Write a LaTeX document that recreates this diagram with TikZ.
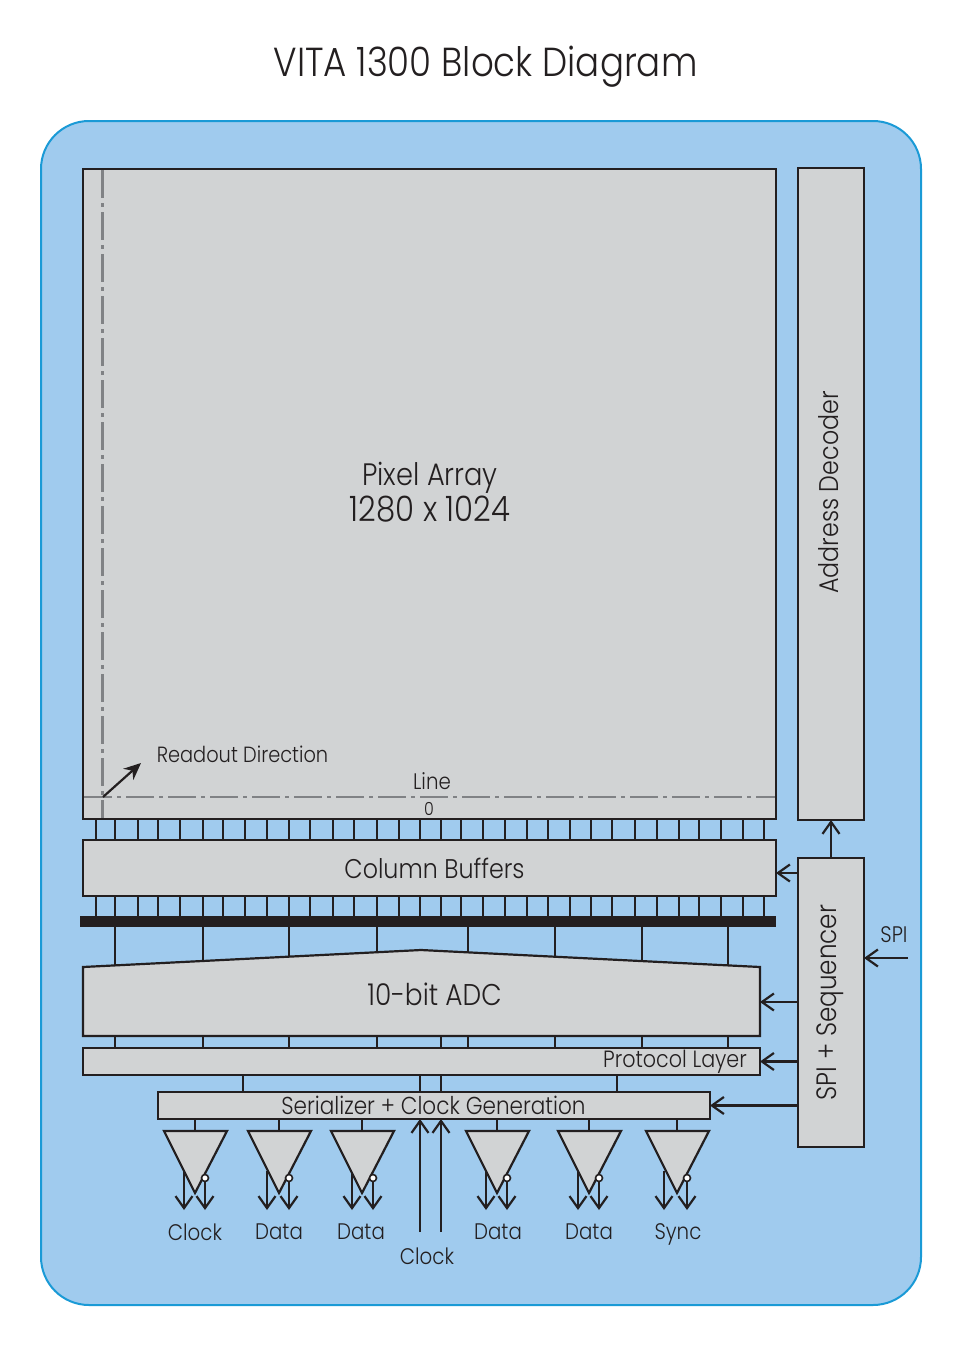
\documentclass[tikz,border=0pt]{standalone}
\usepackage{fontspec}
\setmainfont{Poppins Light}[FakeStretch=0.88]
\usetikzlibrary{arrows.meta}
\definecolor{panelblue}{HTML}{A0CBEE}
\definecolor{panelrim}{HTML}{1A9AD6}
\definecolor{blockgray}{HTML}{D1D3D4}
\definecolor{inkdark}{HTML}{231F20}
\definecolor{guidegray}{HTML}{808285}

\begin{document}
\begin{tikzpicture}[
		x=1pt, y=-1pt,
		panel/.style	={ draw=panelrim, fill=panelblue, line width=2pt, rounded corners=48pt },
		block/.style	={ draw=inkdark, fill=blockgray, line width=2.2pt,
			inner sep=0pt, outer sep=0pt, line join=miter,
		},
		wire/.style	={ draw=inkdark, line width=2.2pt },
		link/.style	={ wire, -{Straight Barb[length=12pt,width=17pt,line width=2.2pt]} },
		guide/.style	={ draw=guidegray, line width=2.2pt, dash pattern=on 28pt off 5pt on 4pt off 5pt },
		txt/.style	={ text=inkdark, inner sep=0pt, font=\fontsize{27}{32}\selectfont, align=center },
		small/.style	={ txt, font=\fontsize{22.5}{26}\selectfont },
	]
	\useasboundingbox (0,0) rectangle (977,1357);

	\node [txt, font=\fontsize{40.5}{46}\selectfont] (title) at (485.5,67) {VITA 1300 Block Diagram};
	\draw [panel] (41,121) rectangle (921,1305);

	% tick positions
	\def\columnlist{96,115,138,158,180,203,223,245,267,289,310,333,354,377,399,420,441,461,483,505,527,548,570,591,612,635,657,679,699,721,743,764}
	\def\adclist{115,203,289,377,468,555,642,728}

	% draw blocks
	\node [block, minimum width=693pt, minimum height=650pt] (pixels) at (429.5,494) {};
	\node [block, minimum width=66pt, minimum height=652pt] (decoder) at (831,494) {};
	\node [block, minimum width=693pt, minimum height=56pt] (buffers) at (429.5,868) {};
	\node [fill=inkdark, inner sep=0pt, outer sep=0pt, minimum width=696pt, minimum height=11pt] (bar) at (428,921.5) {};
	\node [block, minimum width=677pt, minimum height=27pt] (protocol) at (421.5,1061.5) {};
	\node [block, minimum width=552pt, minimum height=27pt] (serializer) at (434,1105.5) {};
	\node [block, minimum width=66pt, minimum height=289pt] (sequencer) at (831,1002.5) {};

	% draw column ticks
	\foreach \x in \columnlist {
		\draw [wire] (\x,0 |- pixels.south) -- (\x,0 |- buffers.north);
		\draw [wire] (\x,0 |- buffers.south) -- (\x,0 |- bar.north);
	}
	\foreach \x in \adclist
		\draw [wire] (\x,0 |- bar.south) -- (\x,0 |- protocol.north);

	% draw adc over its wires
	\draw [block] (83,967) -- (421,950) -- (760,967) -- (760,1036) -- (83,1036) -- cycle;
	\coordinate (adc_east) at (760,1002);
	\coordinate (adc_south) at (441,1036);
	\draw [wire] (adc_south) -- (adc_south |- protocol.north);

	% draw guide lines
	\draw [guide] (102.5,170) -- (102.5,818);
	\draw [guide] (84,797) -- (775,797);
	\coordinate (read_start) at (103,797);
	\coordinate (read_end) at (141,763);
	\draw [wire, -{Stealth[length=17pt,width=15pt]}] (read_start) -- (read_end);

	% draw serializer wires
	\foreach \x in {243,420,441,617}
		\draw [wire] (\x,0 |- protocol.south) -- (\x,0 |- serializer.north);

	% draw control arrows
	\coordinate (buffers_in) at (776,873);
	\coordinate (spi_in) at (908,958);
	\draw [link] (sequencer.north) -- (decoder.south);
	\draw [link] (sequencer.west |- buffers_in) -- (buffers_in);
	\draw [link] (sequencer.west |- adc_east) -- (adc_east);
	\draw [link] (sequencer.west |- protocol.east) -- (protocol.east);
	\draw [link] (sequencer.west |- serializer.east) -- (serializer.east);
	\draw [link] (spi_in) -- (sequencer.east |- spi_in);

	% draw output drivers
	\foreach \x/\l/\r/\s/\n/\t/\h in {195/184/205/195/1/Clock/1232, 279/267/289/279/2/Data/1232, 362/352/373/361/3/Data/1232,
			497/486/507/498/4/Data/1232, 589/578/599/589/5/Data/1232, 677/664/687/678/6/Sync/1234} {
		\node [small] (out_\n) at (\s,\h) {\t};
		\coordinate (tip_\n) at (\x,1210);
		\draw [link] (\l,1171) -- (\l,1210);
		\draw [link] (\r,1178) -- (\r,1210);
		\draw [block] (\x-31,1131) -- (\x+32,1131) -- (\x,1193) -- cycle;
		\draw [wire] (\x,0 |- serializer.south) -- (\x,1131);
		\draw [wire, line width=1.6pt, fill=white] (\r,1178) circle (3.5pt);
	}

	% draw clock input
	\node [small] (clock_in) at (427,1256) {Clock};
	\draw [link] (420,1232) -- (420,0 |- serializer.south);
	\draw [link] (441,1232) -- (441,0 |- serializer.south);

	% draw labels
	\node [txt, font=\fontsize{31}{34}\selectfont] (pixels_label) at (430,478) {Pixel Array};
	\node [txt, font=\fontsize{35}{36}\selectfont] (size_label) at (430,509) {1280 x 1024};
	\node [txt, rotate=90] (decoder_label) at (829,492.5) {Address Decoder};
	\node [small, font=\fontsize{22}{26}\selectfont] (read_label) at (242.5,754) {Readout Direction};
	\node [small] (line_label) at (432,781) {Line};
	\node [small, font=\fontsize{18}{20}\selectfont] (zero_label) at (429,809) {0};
	\node [txt] (buffers_label) at (434.5,868) {Column Buffers};
	\node [txt, font=\fontsize{30}{34}\selectfont] (adc_label) at (434.5,994) {10-bit ADC};
	\node [small, font=\fontsize{23.5}{26}\selectfont] (protocol_label) at (675,1062) {Protocol Layer};
	\node [small, font=\fontsize{24.5}{26}\selectfont] (serializer_label) at (433.5,1105.5) {Serializer + Clock Generation};
	\node [txt, rotate=90, font=\fontsize{28}{32}\selectfont] (sequencer_label) at (830,1002.5) {SPI + Sequencer};
	\node [small] (spi_label) at (894,935) {SPI};
\end{tikzpicture}
\end{document}
